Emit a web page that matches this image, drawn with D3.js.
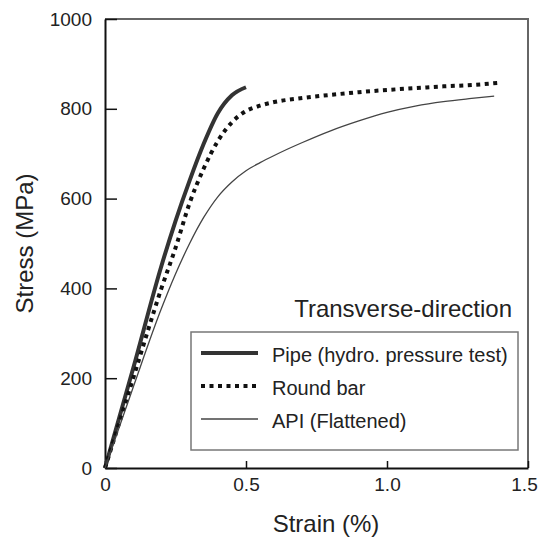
<!DOCTYPE html>
<html>
<head>
<meta charset="utf-8">
<script src="https://cdn.jsdelivr.net/npm/d3@7"></script>
<style>
  html, body { margin: 0; padding: 0; background: #fff; }
  svg { display: block; font-family: "Liberation Sans", Arial, sans-serif; }
</style>
</head>
<body>
<div id="chart"></div>
<script>
// strain (%) / stress (MPa)
const pipeStrain = [0, 0.1, 0.2, 0.25, 0.3, 0.35, 0.4, 0.45, 0.5];
const pipeStress = [0, 222, 450, 550, 640, 722, 790, 830, 848];

const barStrain = [0, 0.1, 0.2, 0.25, 0.3, 0.35, 0.4, 0.45, 0.5, 0.55, 0.6, 0.7, 0.8, 0.9, 1.0, 1.1, 1.2, 1.3, 1.4];
const barStress = [0, 200, 400, 490, 590, 667, 728, 770, 795, 807, 815, 824, 831, 837, 842, 846, 850, 853, 858];

const apiStrain = [0, 0.1, 0.2, 0.25, 0.3, 0.35, 0.4, 0.45, 0.5, 0.55, 0.6, 0.65, 0.7, 0.8, 0.9, 1.0, 1.1, 1.2, 1.3, 1.38];
const apiStress = [0, 180, 355, 432, 500, 558, 604, 637, 662, 680, 696, 711, 725, 751, 773, 792, 806, 816, 823, 828];

const xTicks = [0, 0.5, 1.0, 1.5];
const xTickLabels = ["0", "0.5", "1.0", "1.5"];
const yTicks = [0, 200, 400, 600, 800, 1000];

const seriesNames = ["Pipe (hydro. pressure test)", "Round bar", "API (Flattened)"];

const width = 540, height = 538;
const margin = {left: 105, right: 12, top: 19, bottom: 70};

const svg = d3.select("#chart").append("svg")
    .attr("width", width)
    .attr("height", height);

const x = d3.scaleLinear().domain([0, 1.5]).range([margin.left, width - margin.right]);
const y = d3.scaleLinear().domain([0, 1000]).range([height - margin.bottom, margin.top]);

// frame: top and right in grey
svg.append("path")
    .attr("d", `M${x(0)},${y(1000)}H${x(1.5)}V${y(0)}`)
    .attr("fill", "none")
    .attr("stroke", "#666")
    .attr("stroke-width", 2);

const yAxis = svg.append("g")
    .attr("transform", `translate(${x(0)},0)`)
    .call(d3.axisLeft(y).tickValues(yTicks).tickSize(-12).tickSizeOuter(0).tickPadding(13).tickFormat(d => d));

const xAxis = svg.append("g")
    .attr("transform", `translate(0,${y(0)})`)
    .call(d3.axisBottom(x).tickValues(xTicks).tickSize(-7).tickSizeOuter(0).tickPadding(10)
        .tickFormat((d, i) => xTickLabels[i]));

[yAxis, xAxis].forEach(ax => {
    ax.select(".domain").attr("stroke", "#111").attr("stroke-width", 2);
    ax.selectAll(".tick line").attr("stroke", "#111").attr("stroke-width", 1.5);
    ax.selectAll(".tick text").attr("fill", "#222").style("font-size", "19px");
});
// last x label sits against the page edge
xAxis.selectAll(".tick text").filter(d => d === 1.5).attr("dx", -4);

// axis titles
svg.append("text")
    .attr("x", 326)
    .attr("y", 532)
    .attr("text-anchor", "middle")
    .attr("fill", "#222")
    .style("font-size", "24px")
    .text("Strain (%)");

svg.append("text")
    .attr("transform", `translate(33,${(y(0) + y(1000)) / 2}) rotate(-90)`)
    .attr("text-anchor", "middle")
    .attr("fill", "#222")
    .style("font-size", "24px")
    .text("Stress (MPa)");

const line = d3.line()
    .x(d => x(d[0]))
    .y(d => y(d[1]))
    .curve(d3.curveMonotoneX);

const styles = [
    {stroke: "#333", width: 4, dash: null},
    {stroke: "#111", width: 4, dash: "4,4.5"},
    {stroke: "#444", width: 1.3, dash: null}
];

const series = [
    d3.zip(pipeStrain, pipeStress),
    d3.zip(barStrain, barStress),
    d3.zip(apiStrain, apiStress)
];

series.forEach((pts, i) => {
    svg.append("path")
        .datum(pts)
        .attr("d", line)
        .attr("fill", "none")
        .attr("stroke", styles[i].stroke)
        .attr("stroke-width", styles[i].width)
        .attr("stroke-dasharray", styles[i].dash);
});

// annotation + legend
svg.append("text")
    .attr("x", 512)
    .attr("y", 317)
    .attr("text-anchor", "end")
    .attr("fill", "#222")
    .style("font-size", "24px")
    .text("Transverse-direction");

const legend = svg.append("g");
legend.append("rect")
    .attr("x", 191)
    .attr("y", 332)
    .attr("width", 327)
    .attr("height", 118)
    .attr("fill", "#fff")
    .attr("stroke", "#777")
    .attr("stroke-width", 1.5);

seriesNames.forEach((name, i) => {
    const ly = 353 + i * 33;
    legend.append("line")
        .attr("x1", 201)
        .attr("x2", 258)
        .attr("y1", ly)
        .attr("y2", ly)
        .attr("stroke", styles[i].stroke)
        .attr("stroke-width", styles[i].width)
        .attr("stroke-dasharray", styles[i].dash);
    legend.append("text")
        .attr("x", 272)
        .attr("y", ly + 9)
        .attr("fill", "#222")
        .style("font-size", "20px")
        .text(name);
});
</script>
</body>
</html>
